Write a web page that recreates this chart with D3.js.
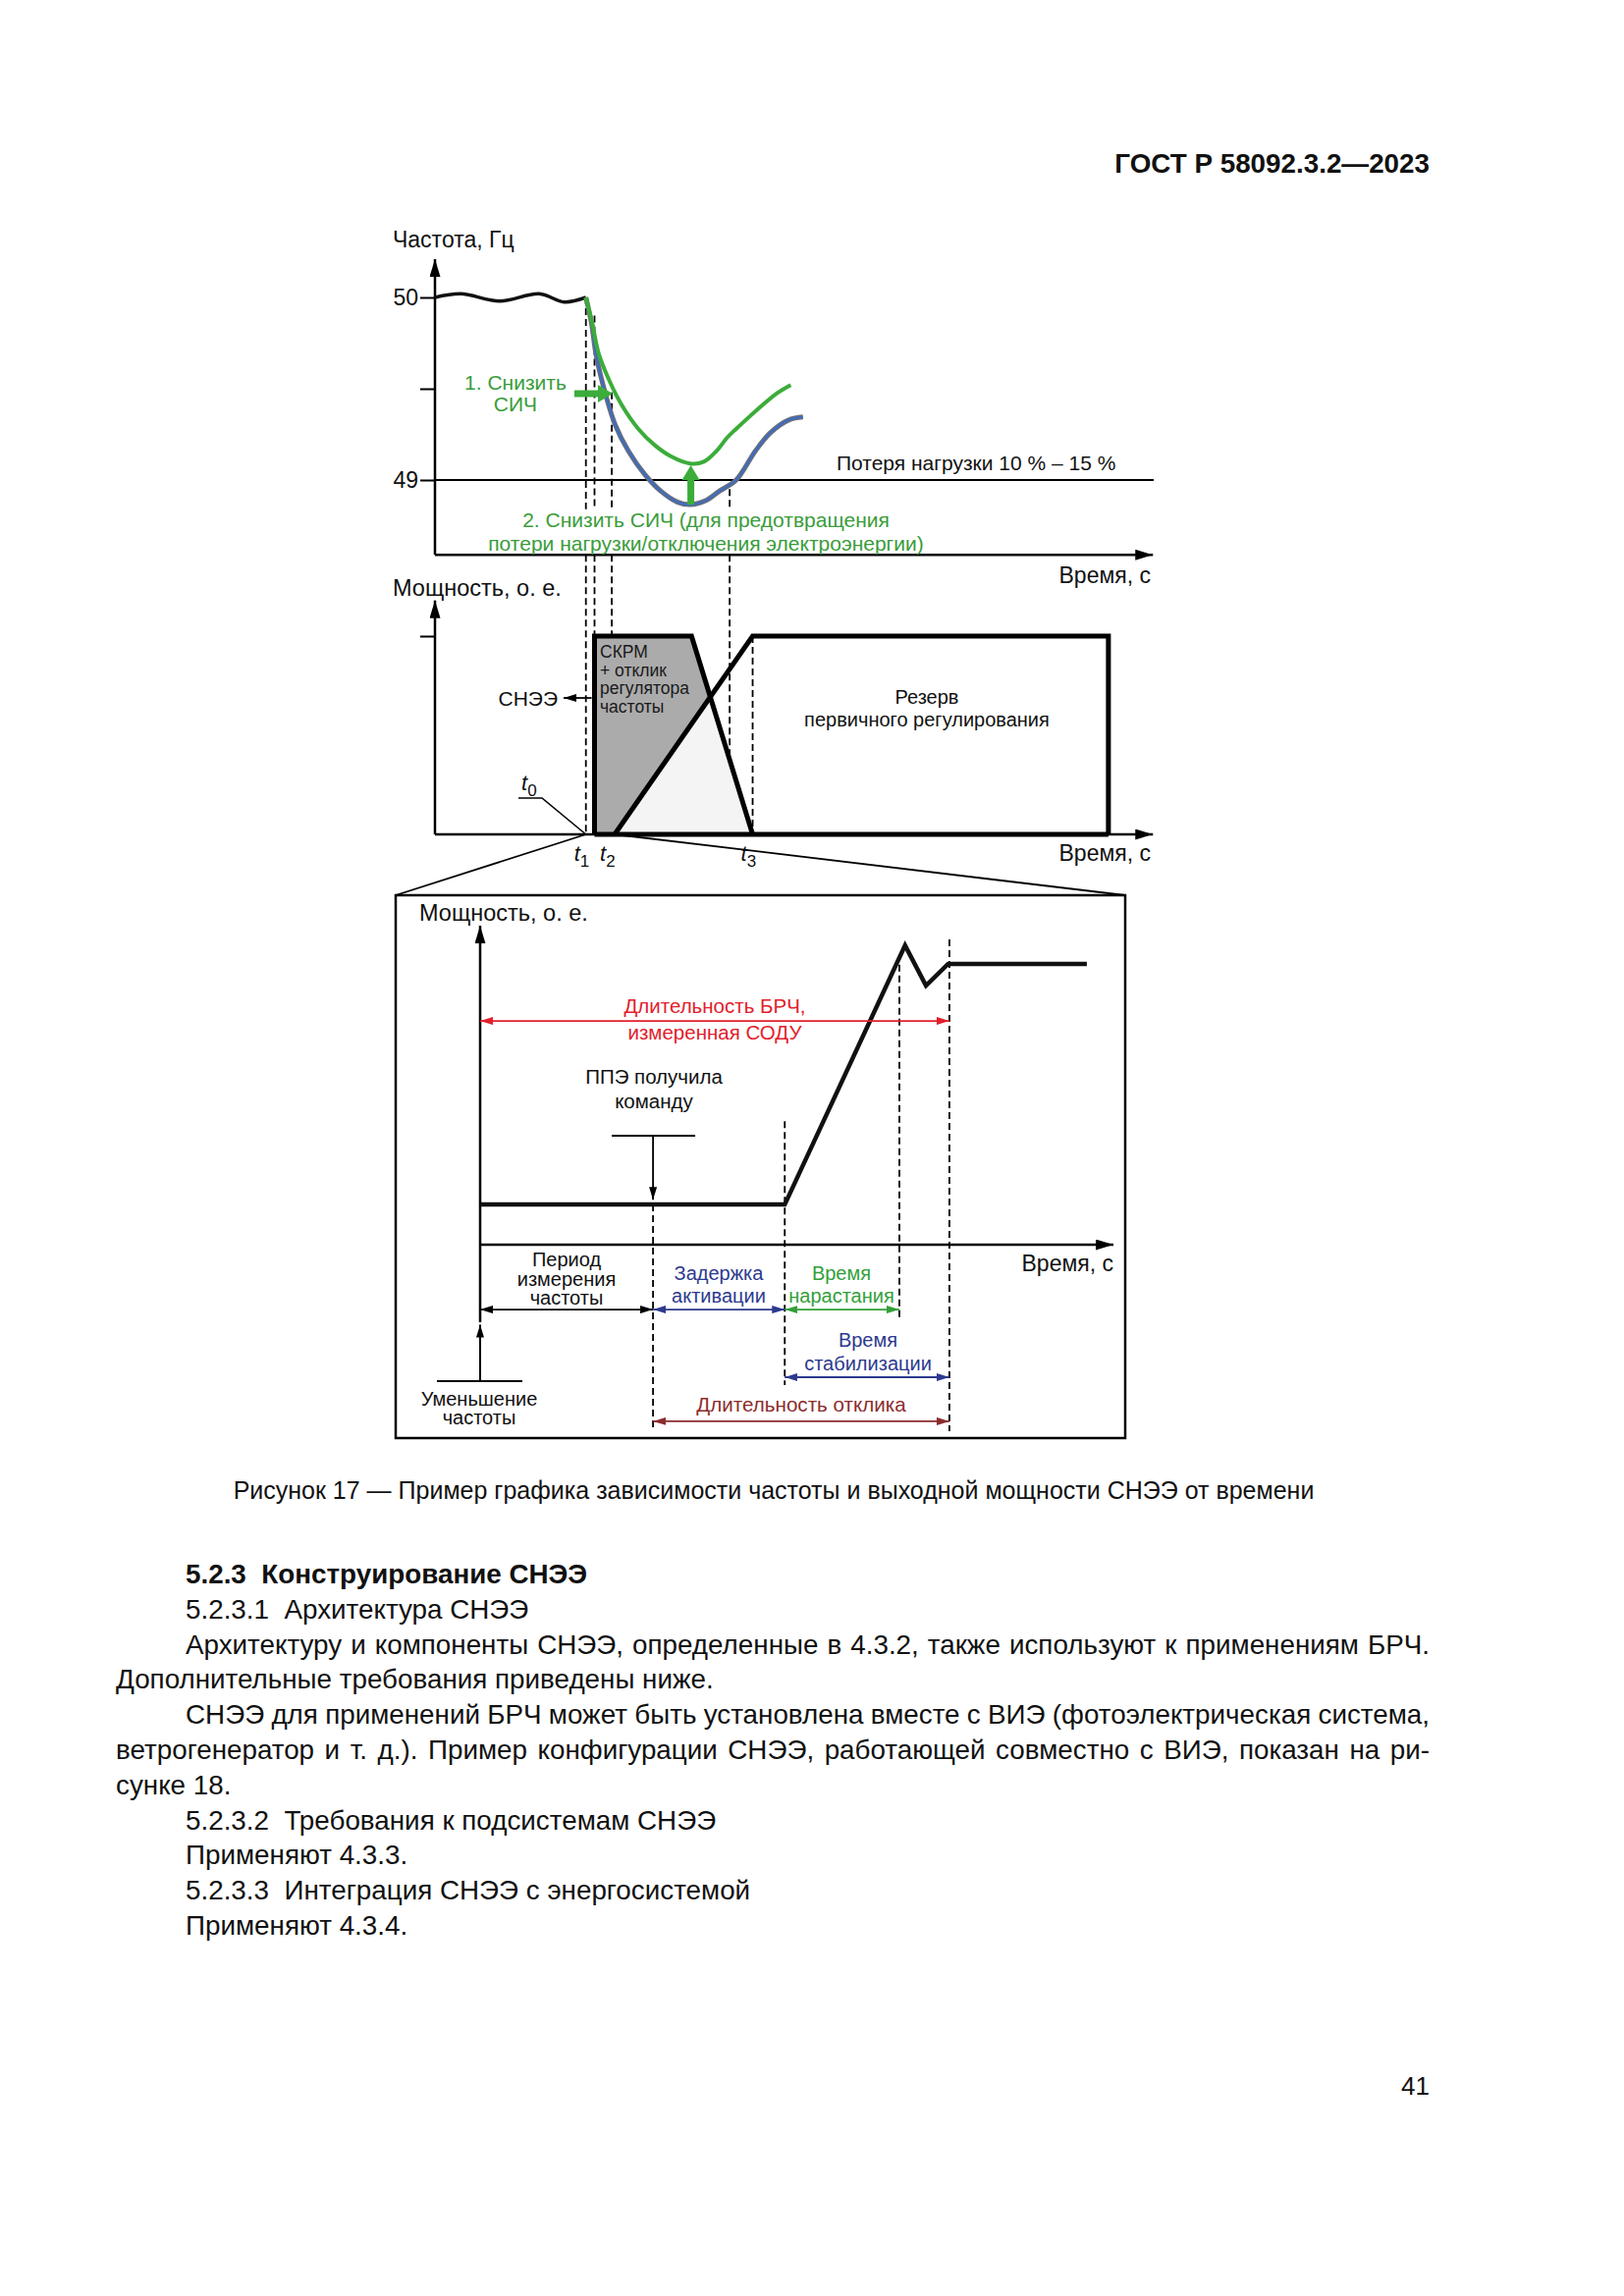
<!DOCTYPE html>
<html>
<head>
<meta charset="utf-8">
<script src="https://cdn.jsdelivr.net/npm/d3@7"></script>
<style>
  body { margin: 0; background: #fff; }
  text { font-family: "Liberation Sans", Arial, sans-serif; }
</style>
</head>
<body>
<div id="page"></div>
<script>
"use strict"

/* Page dimensions */
let pageWidth = 1654;
let pageHeight = 2339;

/* ---- Data: frequency panel (time in arbitrary units, frequency in Hz) ---- */
let freqTicks = [49, 49.5, 50];
let freqTickLabels = ["49", "", "50"];
let lossLevel = 49;
let freqBefore = [[0, 50.0], [3.6, 50.02], [9.0, 49.98], [14.5, 50.02], [18.0, 49.975], [21.0, 50.0]];
let freqGreen = [[21.0, 50.0], [21.9, 49.855], [22.8, 49.69], [24.2, 49.55], [26.0, 49.41], [28.3, 49.28],
    [30.6, 49.19], [32.8, 49.13], [35.5, 49.09], [37.4, 49.10], [39.2, 49.16], [40.6, 49.23],
    [41.9, 49.28], [44.7, 49.38], [47.4, 49.47], [49.5, 49.52]];
let freqBlue = [[21.0, 50.0], [21.8, 49.855], [22.4, 49.69], [23.8, 49.46], [25.1, 49.30], [26.9, 49.16],
    [29.2, 49.03], [31.4, 48.94], [33.7, 48.88], [35.5, 48.865], [37.8, 48.89], [39.6, 48.94],
    [41.9, 49.0], [44.6, 49.16], [46.7, 49.26], [49.3, 49.33], [51.2, 49.345]];

/* Dashed marker lines crossing the upper two panels: time and upper end (Hz) */
let markerTimes = [21.0, 22.2, 24.6, 41.0];
let markerTopFreq = [50.0, 49.9, 49.48, 48.95];
let markerBreakFreq = 48.84; // lines pause under the green note

/* ---- Data: power panel (per unit) ---- */
let powerTicks = [1];
let sneePower = [[22.2, 0], [22.2, 1], [35.7, 1], [44.2, 0]];
let reservePower = [[25.0, 0], [44.2, 1], [93.7, 1], [93.7, 0]];
let timeLabels = [{ t: 21.0, name: "1" }, { t: 24.6, name: "2" }, { t: 44.2, name: "3" }];

/* ---- Data: detail panel ---- */
let responsePower = [[0, 0.143], [48.1, 0.143], [67.1, 1.066], [70.4, 0.923], [73.9, 1.0], [95.8, 1.0]];
let detailMarks = [27.3, 48.1, 66.2, 74.1];
let detailMarkTop = [0.143, 0.44, 0.997, 1.087];
let detailMarkBottom = [-0.664, -0.5, -0.27, -0.664];
let intervalNames = ["Длительность БРЧ", "Период измерения частоты", "Задержка активации",
    "Время нарастания", "Время стабилизации", "Длительность отклика"];
let intervalStart = [0, 0, 27.3, 48.1, 48.1, 27.3];
let intervalEnd = [74.1, 27.3, 48.1, 66.2, 74.1, 74.1];

/* Create the page canvas */
let svg = d3.select("#page")
    .append("svg")
    .attr("width", pageWidth)
    .attr("height", pageHeight);

svg.append("rect")
    .attr("width", pageWidth)
    .attr("height", pageHeight)
    .attr("fill", "white");

let defs = svg.append("defs");

/* arrowhead markers, tip at the end of the line */
function addMarker(id, color, len, wid) {
    defs.append("marker")
        .attr("id", id)
        .attr("viewBox", "0 0 " + len + " " + wid)
        .attr("refX", len)
        .attr("refY", wid / 2)
        .attr("markerWidth", len)
        .attr("markerHeight", wid)
        .attr("markerUnits", "userSpaceOnUse")
        .attr("orient", "auto-start-reverse")
        .append("path")
        .attr("d", "M0,0L" + len + "," + (wid / 2) + "L0," + wid + "Z")
        .attr("fill", color);
}
addMarker("axisHead", "black", 18, 11);
addMarker("smallHead", "black", 13, 8);

let colNavy = "#2d3a8e";
let colGreen = "#33a03a";
let colRed = "#e2202c";
let colBrown = "#8c2c2c";
addMarker("headNavy", colNavy, 13, 8);
addMarker("headGreen", colGreen, 13, 8);
addMarker("headRed", colRed, 13, 8);
addMarker("headBrown", colBrown, 13, 8);

/* helper for plain text */
function label(x, y, str, opts) {
    opts = opts || {};
    return svg.append("text")
        .attr("x", x)
        .attr("y", y)
        .attr("text-anchor", opts.anchor || "start")
        .attr("fill", opts.color || "#111")
        .style("font-size", (opts.size || 21) + "px")
        .style("font-weight", opts.bold ? "bold" : "normal")
        .style("white-space", "pre")
        .text(str);
}

/* ---- Header ---- */
label(1456, 176, "ГОСТ Р 58092.3.2—2023", { anchor: "end", size: 27.8, bold: true });

/**** Frequency panel ****/
let xTime = d3.scaleLinear().domain([0, 100]).range([443, 1175]);
let yFreq = d3.scaleLinear().domain([49, 50]).range([489, 303]);
let freqAxisMin = 48.59;
let freqAxisMax = 50.21;

// y axis with ticks
svg.append("g")
    .attr("transform", "translate(" + xTime(0) + ",0)")
    .call(d3.axisLeft(yFreq)
        .tickValues(freqTicks)
        .tickSize(15)
        .tickPadding(2)
        .tickFormat(function (d, i) { return freqTickLabels[i]; }))
    .call(function (g) {
        g.select(".domain").remove();
        g.selectAll("line").attr("stroke", "black").attr("stroke-width", 2);
        g.selectAll("text")
            .attr("fill", "#111")
            .style("font-size", "23px")
            .style("font-family", "'Liberation Sans', Arial, sans-serif");
    });

svg.append("line")
    .attr("x1", xTime(0)).attr("y1", yFreq(freqAxisMin))
    .attr("x2", xTime(0)).attr("y2", yFreq(freqAxisMax))
    .attr("stroke", "black").attr("stroke-width", 2.5)
    .attr("marker-end", "url(#axisHead)");

svg.append("line")
    .attr("x1", xTime(0)).attr("y1", yFreq(freqAxisMin))
    .attr("x2", xTime(99.9)).attr("y2", yFreq(freqAxisMin))
    .attr("stroke", "black").attr("stroke-width", 2.5)
    .attr("marker-end", "url(#axisHead)");

// load-loss threshold
svg.append("line")
    .attr("x1", xTime(0)).attr("y1", yFreq(lossLevel))
    .attr("x2", xTime(100)).attr("y2", yFreq(lossLevel))
    .attr("stroke", "black").attr("stroke-width", 2);

// dashed markers: upper part in the frequency panel, lower part down to the power axis
let yPower = d3.scaleLinear().domain([0, 1]).range([850, 648]);

svg.selectAll(".markerTop")
    .data(markerTimes)
    .join("line")
    .attr("class", "markerTop")
    .attr("x1", function (d) { return xTime(d); })
    .attr("x2", function (d) { return xTime(d); })
    .attr("y1", function (d, i) { return yFreq(markerTopFreq[i]); })
    .attr("y2", yFreq(markerBreakFreq))
    .attr("stroke", "black")
    .attr("stroke-width", 1.8)
    .attr("stroke-dasharray", "7,4");

svg.selectAll(".markerLow")
    .data(markerTimes)
    .join("line")
    .attr("class", "markerLow")
    .attr("x1", function (d) { return xTime(d); })
    .attr("x2", function (d) { return xTime(d); })
    .attr("y1", yFreq(freqAxisMin))
    .attr("y2", yPower(0))
    .attr("stroke", "black")
    .attr("stroke-width", 1.8)
    .attr("stroke-dasharray", "7,4");

// frequency curves
let freqLine = d3.line()
    .x(function (d) { return xTime(d[0]); })
    .y(function (d) { return yFreq(d[1]); })
    .curve(d3.curveCatmullRom.alpha(0.5));

svg.append("path").datum(freqBefore)
    .attr("d", freqLine).attr("fill", "none")
    .attr("stroke", "#111").attr("stroke-width", 3.5);

svg.append("path").datum(freqBlue)
    .attr("d", freqLine).attr("fill", "none")
    .attr("stroke", "#6b6e78").attr("stroke-width", 5);
svg.append("path").datum(freqBlue)
    .attr("d", freqLine).attr("fill", "none")
    .attr("stroke", "#3f6cbf").attr("stroke-width", 2.4);

svg.append("path").datum(freqGreen)
    .attr("d", freqLine).attr("fill", "none")
    .attr("stroke", "#3cac3a").attr("stroke-width", 4);

// green action arrows
svg.append("line")
    .attr("x1", 585).attr("y1", 401).attr("x2", 611).attr("y2", 401)
    .attr("stroke", "#3cac3a").attr("stroke-width", 7);
svg.append("path")
    .attr("d", "M609,392L624,401L609,410Z").attr("fill", "#3cac3a");
svg.append("line")
    .attr("x1", xTime(35.6)).attr("y1", yFreq(48.865))
    .attr("x2", xTime(35.6)).attr("y2", 486)
    .attr("stroke", "#3cac3a").attr("stroke-width", 7);
svg.append("path")
    .attr("d", "M" + (xTime(35.6) - 9) + ",489L" + xTime(35.6) + ",474L" + (xTime(35.6) + 9) + ",489Z")
    .attr("fill", "#3cac3a");

label(400, 252, "Частота, Гц", { size: 23 });
label(525, 397, "1. Снизить", { anchor: "middle", color: "#3a9c3a" });
label(525, 419, "СИЧ", { anchor: "middle", color: "#3a9c3a" });
label(852, 479, "Потеря нагрузки 10 % – 15 %");
label(719, 537, "2. Снизить СИЧ (для предотвращения", { anchor: "middle", color: "#3a9c3a" });
label(719, 561, "потери нагрузки/отключения электроэнергии)", { anchor: "middle", color: "#3a9c3a" });
label(1172, 594, "Время, с", { anchor: "end", size: 23 });

/**** Power panel ****/
function crossing(a1, a2, b1, b2) {
    let d = (a2[0] - a1[0]) * (b2[1] - b1[1]) - (a2[1] - a1[1]) * (b2[0] - b1[0]);
    let u = ((b1[0] - a1[0]) * (b2[1] - b1[1]) - (b1[1] - a1[1]) * (b2[0] - b1[0])) / d;
    return [a1[0] + u * (a2[0] - a1[0]), a1[1] + u * (a2[1] - a1[1])];
}
let cross = crossing(sneePower[2], sneePower[3], reservePower[0], reservePower[1]);

let powerLine = d3.line()
    .x(function (d) { return xTime(d[0]); })
    .y(function (d) { return yPower(d[1]); });

// shaded energy of the storage
svg.append("path")
    .datum([sneePower[0], sneePower[1], sneePower[2], cross, reservePower[0]])
    .attr("d", powerLine.curve(d3.curveLinearClosed))
    .attr("fill", "#ababab");
svg.append("path")
    .datum([reservePower[0], cross, sneePower[3]])
    .attr("d", powerLine.curve(d3.curveLinearClosed))
    .attr("fill", "#f4f4f4");
powerLine.curve(d3.curveLinear);

svg.append("g")
    .attr("transform", "translate(" + xTime(0) + ",0)")
    .call(d3.axisLeft(yPower).tickValues(powerTicks).tickSize(15).tickFormat(""))
    .call(function (g) {
        g.select(".domain").remove();
        g.selectAll("line").attr("stroke", "black").attr("stroke-width", 2);
    });

svg.append("line")
    .attr("x1", xTime(0)).attr("y1", yPower(0))
    .attr("x2", xTime(0)).attr("y2", yPower(1.18))
    .attr("stroke", "black").attr("stroke-width", 2.5)
    .attr("marker-end", "url(#axisHead)");
svg.append("line")
    .attr("x1", xTime(0)).attr("y1", yPower(0))
    .attr("x2", xTime(99.9)).attr("y2", yPower(0))
    .attr("stroke", "black").attr("stroke-width", 2.5)
    .attr("marker-end", "url(#axisHead)");

// t3 marker
svg.append("line")
    .attr("x1", xTime(sneePower[3][0])).attr("x2", xTime(sneePower[3][0]))
    .attr("y1", yPower(1)).attr("y2", yPower(0))
    .attr("stroke", "black").attr("stroke-width", 1.8)
    .attr("stroke-dasharray", "7,4");

// storage and primary reserve outlines
svg.append("line")
    .attr("x1", xTime(sneePower[0][0])).attr("y1", yPower(0))
    .attr("x2", xTime(reservePower[3][0])).attr("y2", yPower(0))
    .attr("stroke", "black").attr("stroke-width", 5);
svg.append("path").datum(sneePower)
    .attr("d", powerLine).attr("fill", "none")
    .attr("stroke", "black").attr("stroke-width", 5)
    .attr("stroke-linejoin", "miter");
svg.append("path").datum(reservePower)
    .attr("d", powerLine).attr("fill", "none")
    .attr("stroke", "black").attr("stroke-width", 5)
    .attr("stroke-linejoin", "miter");

// СНЭЭ pointer
svg.append("line")
    .attr("x1", xTime(21.8)).attr("y1", yPower(0.688))
    .attr("x2", 574).attr("y2", yPower(0.688))
    .attr("stroke", "black").attr("stroke-width", 1.8)
    .attr("marker-end", "url(#smallHead)");
label(568, 719, "СНЭЭ", { anchor: "end" });

let innerText = ["СКРМ", "+ отклик", "регулятора", "частоты"];
innerText.forEach(function (s, i) {
    label(611, 670 + i * 18.5, s, { size: 17.5, color: "#1a1a1a" });
});

label(944, 717, "Резерв", { anchor: "middle", size: 20 });
label(944, 740, "первичного регулирования", { anchor: "middle", size: 20 });

label(400, 607, "Мощность, о. е.", { size: 23.5 });
label(1172, 877, "Время, с", { anchor: "end", size: 23 });

// time labels t0..t3
function timeLabel(x, y, sub) {
    let t = svg.append("text")
        .attr("x", x).attr("y", y)
        .attr("fill", "#111")
        .style("font-size", "22px");
    t.append("tspan").style("font-style", "italic").text("t");
    t.append("tspan").attr("dy", 6).style("font-size", "17px").text(sub);
}
timeLabel(531, 805, "0");
svg.append("path")
    .attr("d", "M528,813L552,813L" + xTime(timeLabels[0].t) + "," + yPower(0))
    .attr("fill", "none").attr("stroke", "black").attr("stroke-width", 1.6);
timeLabels.forEach(function (d) {
    timeLabel(xTime(d.t) - 12, 877, d.name);
});

/**** Detail panel ****/
let box = { x: 403, y: 912, w: 743, h: 553 };

svg.append("line")
    .attr("x1", xTime(timeLabels[0].t)).attr("y1", yPower(0))
    .attr("x2", box.x).attr("y2", box.y)
    .attr("stroke", "black").attr("stroke-width", 1.8);
svg.append("line")
    .attr("x1", xTime(reservePower[0][0])).attr("y1", yPower(0))
    .attr("x2", box.x + box.w).attr("y2", box.y)
    .attr("stroke", "black").attr("stroke-width", 1.8);
svg.append("rect")
    .attr("x", box.x).attr("y", box.y)
    .attr("width", box.w).attr("height", box.h)
    .attr("fill", "white").attr("stroke", "black").attr("stroke-width", 2.5);

let xDetail = d3.scaleLinear().domain([0, 100]).range([489, 1134]);
let yDetail = d3.scaleLinear().domain([0, 1]).range([1268, 982]);

// axes
svg.append("line")
    .attr("x1", xDetail(0)).attr("y1", yDetail(-0.276))
    .attr("x2", xDetail(0)).attr("y2", yDetail(1.136))
    .attr("stroke", "black").attr("stroke-width", 2.5)
    .attr("marker-end", "url(#axisHead)");
svg.append("line")
    .attr("x1", xDetail(0)).attr("y1", yDetail(0))
    .attr("x2", xDetail(100)).attr("y2", yDetail(0))
    .attr("stroke", "black").attr("stroke-width", 2.5)
    .attr("marker-end", "url(#axisHead)");

// dashed markers
svg.selectAll(".dmark")
    .data(detailMarks)
    .join("line")
    .attr("class", "dmark")
    .attr("x1", function (d) { return xDetail(d); })
    .attr("x2", function (d) { return xDetail(d); })
    .attr("y1", function (d, i) { return yDetail(detailMarkTop[i]); })
    .attr("y2", function (d, i) { return yDetail(detailMarkBottom[i]); })
    .attr("stroke", "black").attr("stroke-width", 1.8)
    .attr("stroke-dasharray", "7,4");

// storage output power
svg.append("path").datum(responsePower)
    .attr("d", d3.line()
        .x(function (d) { return xDetail(d[0]); })
        .y(function (d) { return yDetail(d[1]); }))
    .attr("fill", "none").attr("stroke", "#111")
    .attr("stroke-width", 4.5).attr("stroke-linejoin", "miter");

// command received arrow
svg.append("line")
    .attr("x1", xDetail(detailMarks[0]) - 42).attr("y1", yDetail(0.388))
    .attr("x2", xDetail(detailMarks[0]) + 43).attr("y2", yDetail(0.388))
    .attr("stroke", "black").attr("stroke-width", 2);
svg.append("line")
    .attr("x1", xDetail(detailMarks[0])).attr("y1", yDetail(0.388))
    .attr("x2", xDetail(detailMarks[0])).attr("y2", yDetail(0.16))
    .attr("stroke", "black").attr("stroke-width", 1.8)
    .attr("marker-end", "url(#smallHead)");

// frequency decrease arrow
svg.append("line")
    .attr("x1", xDetail(0) - 44).attr("y1", yDetail(-0.486))
    .attr("x2", xDetail(0) + 43).attr("y2", yDetail(-0.486))
    .attr("stroke", "black").attr("stroke-width", 2);
svg.append("line")
    .attr("x1", xDetail(0)).attr("y1", yDetail(-0.486))
    .attr("x2", xDetail(0)).attr("y2", yDetail(-0.285))
    .attr("stroke", "black").attr("stroke-width", 2)
    .attr("marker-end", "url(#smallHead)");

// interval brackets: level (p.u.) and colour
let intervalLevel = [0.797, -0.231, -0.231, -0.231, -0.472, -0.629];
let intervalColor = [colRed, "black", colNavy, colGreen, colNavy, colBrown];
let intervalHead = ["headRed", "smallHead", "headNavy", "headGreen", "headNavy", "headBrown"];

svg.selectAll(".interval")
    .data(intervalNames)
    .join("line")
    .attr("class", "interval")
    .attr("x1", function (d, i) { return xDetail(intervalStart[i]); })
    .attr("x2", function (d, i) { return xDetail(intervalEnd[i]); })
    .attr("y1", function (d, i) { return yDetail(intervalLevel[i]); })
    .attr("y2", function (d, i) { return yDetail(intervalLevel[i]); })
    .attr("stroke", function (d, i) { return intervalColor[i]; })
    .attr("stroke-width", 1.8)
    .attr("marker-start", function (d, i) { return "url(#" + intervalHead[i] + ")"; })
    .attr("marker-end", function (d, i) { return "url(#" + intervalHead[i] + ")"; });

label(427, 938, "Мощность, о. е.", { size: 23.5 });
label(728, 1032, "Длительность БРЧ,", { anchor: "middle", color: colRed, size: 20.5 });
label(728, 1059, "измеренная СОДУ", { anchor: "middle", color: colRed, size: 20.5 });
label(666, 1104, "ППЭ получила", { anchor: "middle", size: 20.5 });
label(666, 1129, "команду", { anchor: "middle", size: 20.5 });
label(1134, 1295, "Время, с", { anchor: "end", size: 23 });

label(577, 1290, "Период", { anchor: "middle", size: 20 });
label(577, 1310, "измерения", { anchor: "middle", size: 20 });
label(577, 1329, "частоты", { anchor: "middle", size: 20 });
label(732, 1304, "Задержка", { anchor: "middle", size: 20, color: colNavy });
label(732, 1327, "активации", { anchor: "middle", size: 20, color: colNavy });
label(857, 1304, "Время", { anchor: "middle", size: 20, color: colGreen });
label(857, 1327, "нарастания", { anchor: "middle", size: 20, color: colGreen });
label(884, 1372, "Время", { anchor: "middle", size: 20, color: colNavy });
label(884, 1396, "стабилизации", { anchor: "middle", size: 20, color: colNavy });
label(816, 1438, "Длительность отклика", { anchor: "middle", size: 20.6, color: colBrown });
label(488, 1432, "Уменьшение", { anchor: "middle", size: 20 });
label(488, 1451, "частоты", { anchor: "middle", size: 20 });

/**** Caption and body text ****/
label(788, 1527, "Рисунок 17 — Пример графика зависимости частоты и выходной мощности СНЭЭ от времени",
    { anchor: "middle", size: 25 });

let bodyLines = [
    { s: "5.2.3  Конструирование СНЭЭ", x: 189, bold: true },
    { s: "5.2.3.1  Архитектура СНЭЭ", x: 189 },
    { s: "Архитектуру и компоненты СНЭЭ, определенные в 4.3.2, также используют к применениям БРЧ.", x: 189, justify: true },
    { s: "Дополнительные требования приведены ниже.", x: 118 },
    { s: "СНЭЭ для применений БРЧ может быть установлена вместе с ВИЭ (фотоэлектрическая система,", x: 189, justify: true },
    { s: "ветрогенератор и т. д.). Пример конфигурации СНЭЭ, работающей совместно с ВИЭ, показан на ри-", x: 118, justify: true },
    { s: "сунке 18.", x: 118 },
    { s: "5.2.3.2  Требования к подсистемам СНЭЭ", x: 189 },
    { s: "Применяют 4.3.3.", x: 189 },
    { s: "5.2.3.3  Интеграция СНЭЭ с энергосистемой", x: 189 },
    { s: "Применяют 4.3.4.", x: 189 }
];
let rightEdge = 1456;

bodyLines.forEach(function (d, i) {
    let t = label(d.x, 1613 + i * 35.8, d.s, { size: 27.8, bold: d.bold });
    if (d.justify) {
        let w = t.node().getComputedTextLength();
        let spaces = d.s.split(" ").length - 1;
        t.attr("word-spacing", (rightEdge - d.x - w) / spaces);
    }
});

label(1456, 2134, "41", { anchor: "end", size: 26 });
</script>
</body>
</html>
